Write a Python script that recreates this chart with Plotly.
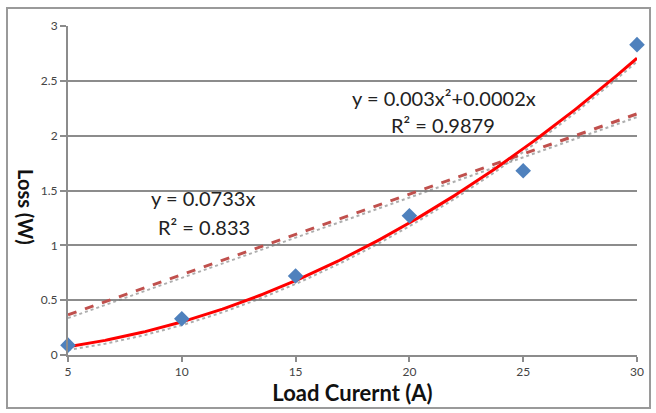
import numpy as np
import plotly.graph_objects as go

# Data
current = [5, 10, 15, 20, 25, 30]
loss = [0.09, 0.33, 0.72, 1.27, 1.68, 2.83]

# Trendline coefficients (as printed on the chart)
quad_coef = [0.003, 0.0002]   # a*x^2 + b*x
lin_coef = [0.0733]           # m*x
quad_label = ["y = 0.003x²+0.0002x", "R² = 0.9879"]
lin_label = ["y = 0.0733x", "R² = 0.833"]

x_ticks = [5, 10, 15, 20, 25, 30]
y_ticks = [0, 0.5, 1, 1.5, 2, 2.5, 3]
y_tick_text = ["0", "0.5", "1", "1.5", "2", "2.5", "3"]

FONT = "Lato, 'Open Sans', sans-serif"
GRID = "#8c8c8c"

xs = np.linspace(min(current), max(current), 200)
y_quad = quad_coef[0] * xs**2 + quad_coef[1] * xs
y_lin = lin_coef[0] * xs

fig = go.Figure()
# soft gray shadows under trend lines
fig.add_trace(go.Scatter(x=xs, y=y_lin - 0.03, mode="lines",
                         line=dict(color="rgba(120,120,120,0.6)", width=2, dash="dot"),
                         hoverinfo="skip", showlegend=False))
fig.add_trace(go.Scatter(x=xs, y=y_quad - 0.03, mode="lines",
                         line=dict(color="rgba(120,120,120,0.6)", width=2, dash="dot"),
                         hoverinfo="skip", showlegend=False))
fig.add_trace(go.Scatter(x=xs, y=y_lin, mode="lines",
                         line=dict(color="#c0504d", width=3, dash="dash"),
                         showlegend=False))
fig.add_trace(go.Scatter(x=xs, y=y_quad, mode="lines",
                         line=dict(color="#ff0000", width=3),
                         showlegend=False))
fig.add_trace(go.Scatter(x=current, y=loss, mode="markers",
                         marker=dict(symbol="diamond", size=12, color="#4f81bd"),
                         showlegend=False, cliponaxis=False))

ann_font = dict(family=FONT, size=20, color="#222222")
fig.add_annotation(x=21.52, y=2.343, text=quad_label[0], showarrow=False, font=ann_font)
fig.add_annotation(x=21.48, y=2.097, text=quad_label[1], showarrow=False, font=ann_font)
fig.add_annotation(x=10.93, y=1.432, text=lin_label[0], showarrow=False, font=ann_font)
fig.add_annotation(x=10.98, y=1.167, text=lin_label[1], showarrow=False, font=ann_font)

# y-axis title, reading top to bottom
fig.add_annotation(xref="paper", yref="paper", x=-0.074, y=0.45, xanchor="center",
                   yanchor="middle", text="<b>Loss (W)</b>", textangle=90,
                   showarrow=False, font=dict(family=FONT, size=20, color="#111111"))

# outer chart frame
fig.add_shape(type="rect", xref="paper", yref="paper",
              x0=-61/569, x1=(650-68)/569, y0=-(408-355)/329, y1=(355-8)/329,
              line=dict(color="#9a9a9a", width=2), layer="below")

fig.update_layout(
    width=656, height=413,
    margin=dict(l=68, r=19, t=26, b=58),
    paper_bgcolor="white", plot_bgcolor="white",
    font=dict(family=FONT, color="#555555"),
)
fig.update_xaxes(range=[5, 30], tickvals=x_ticks, showgrid=False,
                 showline=True, linecolor=GRID, linewidth=2,
                 ticks="outside", ticklen=5, tickcolor=GRID, tickwidth=2,
                 tickfont=dict(size=12, color="#444444"), zeroline=False,
                 title=dict(text="<b>Load Curernt (A)</b>",
                            font=dict(family=FONT, size=22, color="#111111"),
                            standoff=2))
fig.update_yaxes(range=[0, 3], tickvals=y_ticks, ticktext=y_tick_text,
                 showgrid=True, gridcolor=GRID, gridwidth=2,
                 showline=True, linecolor=GRID, linewidth=2,
                 ticks="outside", ticklen=6, tickcolor=GRID, tickwidth=2,
                 tickfont=dict(size=12, color="#444444"), zeroline=False)

fig.write_html("out.html")
